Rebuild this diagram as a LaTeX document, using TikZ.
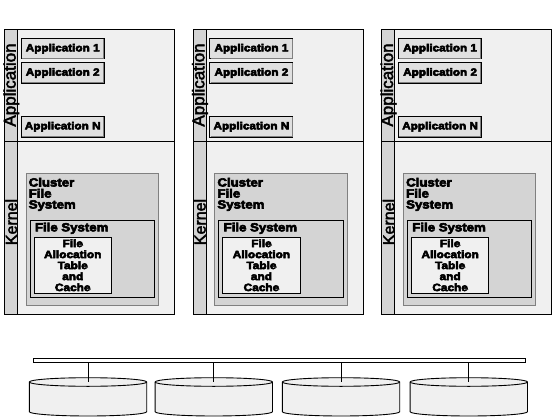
\documentclass[tikz,border=0pt]{standalone}
\usepackage{fontspec}
\setmainfont{Liberation Sans}
\newfontfamily\blk[FakeStretch=1.12,FakeBold=5]{Liberation Sans Bold}
\newfontfamily\vfont[FakeBold=2.5]{Liberation Sans}
\definecolor{lite}{HTML}{F0F0F0}
\definecolor{mid}{HTML}{D4D4D4}
\definecolor{appfill}{HTML}{E0E0E0}
\definecolor{edgegray}{HTML}{808080}
\begin{document}
\begin{tikzpicture}[x=1pt,y=-1pt,line width=0.9pt,
  box/.style={draw=black,inner sep=0pt,outer sep=0pt,anchor=north west},
  outerbox/.style={box,fill=lite,minimum width=170.2pt,minimum height=285pt},
  stripbox/.style={box,fill=mid,minimum width=13pt,minimum height=285pt},
  vlab/.style={rotate=90,inner sep=0pt,font=\vfont\fontsize{16}{16}\selectfont},
  vlabbig/.style={vlab,font=\vfont\fontsize{17}{17}\selectfont},
  appbox/.style={draw=black,fill=appfill,inner sep=0pt,minimum width=83pt,minimum height=20.5pt,
    font=\blk\fontsize{10.5}{11}\selectfont},
  bevel/.style={draw=edgegray,line width=0.8pt},
  clusterbox/.style={box,draw=edgegray,fill=mid,minimum width=132.5pt,minimum height=131.7pt},
  fsbox/.style={box,fill=mid,minimum width=124.5pt,minimum height=77.3pt},
  fatbox/.style={box,fill=lite,minimum width=77.5pt,minimum height=56pt},
  biglbl/.style={inner sep=0pt,align=left,font=\blk\fontsize{11.8}{11}\selectfont},
  fatlbl/.style={inner sep=0pt,align=center,font=\blk\fontsize{10.6}{11}\selectfont},
  busbox/.style={box,fill=white,minimum width=492pt,minimum height=4.4pt},
  disk/.style={draw=black,fill=lite}
]
\useasboundingbox (0,0) rectangle (560,420);
\foreach \i/\dx in {1/0,2/188.7,3/377.4} {
  \begin{scope}[xshift=\dx pt]
    \node[outerbox] (n\i) at (4.3,29.3) {};
    \node[stripbox] (s\i) at (4.3,29.3) {};
    \draw (n\i.west |- 0,141.7) -- (n\i.east |- 0,141.7);
    \node[vlabbig] (la\i) at (11.2,85) {Application};
    \node[vlab] (lk\i) at (11.2,222) {Kernel};
    \foreach \k/\yy/\t in {a/48.7/Application 1,b/73/Application 2,c/126.7/Application N} {
      \node[appbox] (app\i\k) at (62.7,\yy) {\t};
      \draw[bevel] ([shift={(1.2,-1.2)}]app\i\k.south west) -- ([shift={(-1.2,-1.2)}]app\i\k.south east)
        -- ([shift={(-1.2,1.2)}]app\i\k.north east);
    }
    \node[clusterbox] (c\i) at (26,173.3) {};
    \node[biglbl,anchor=north west] (ct\i) at (28.3,177.5) {Cluster\\File\\System};
    \node[fsbox] (fs\i) at (30,220) {};
    \node[biglbl,anchor=west] (ft\i) at (34.5,228.3) {File System};
    \node[fatbox] (fat\i) at (34,237.3) {};
    \node[fatlbl] (fatt\i) at (fat\i.center) {File\\Allocation\\Table\\and\\Cache};
  \end{scope}
}
\node[busbox] (bus) at (33,358.3) {};
\foreach \j/\cx in {1/88,2/213.8,3/341,4/468.8} {
  \filldraw[disk] (\cx-58.7,382) -- (\cx-58.7,411.7)
    arc[start angle=180,end angle=360,x radius=58.7pt,y radius=4.3pt]
    -- (\cx+58.7,382)
    arc[start angle=0,end angle=180,x radius=58.7pt,y radius=4.3pt] -- cycle;
  \draw (\cx-58.7,382) arc[start angle=180,end angle=360,x radius=58.7pt,y radius=4.3pt];
  \coordinate (d\j) at (\cx,382);
  \draw (bus.south -| d\j) -- (d\j);
}
\end{tikzpicture}
\end{document}
